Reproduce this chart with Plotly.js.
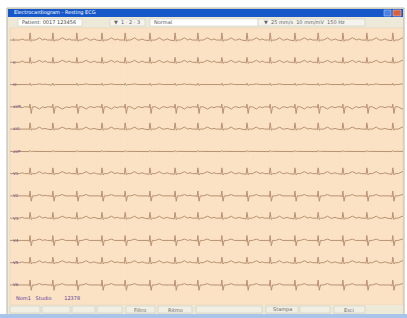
<!DOCTYPE html>
<html><head><meta charset="utf-8">
<script src="https://cdn.plot.ly/plotly-3.0.1.min.js"></script>
<style>html,body{margin:0;padding:0;background:#fff;}#c{width:407px;height:318px;}</style>
</head><body><div id="c"></div>
<script>
// Lead names (top to bottom)
const leads = ["I","II","III","aVR","aVL","aVF","V1","V2","V3","V4","V5","V6"];
// Beat (R peak) times in seconds
const beatTimes = [0.51,1.09,1.70,2.34,2.93,3.56,4.20,4.78,5.39,6.03,6.62,7.25,7.84,8.47,9.08,9.74];
// Wave amplitudes per lead (in row units): P, Q, R, S, T
const ampP = [0.05,0.06,0.02,-0.04,0.03,0.01,0.04,0.03,0.04,0.03,0.04,0.03];
const ampQ = [-0.03,-0.04,-0.02,-0.05,-0.03,-0.01,-0.03,-0.05,-0.03,-0.05,-0.03,-0.05];
const ampR = [0.32,0.22,0.06,0.12,0.28,0.04,0.26,0.22,0.26,0.22,0.25,0.22];
const ampS = [-0.06,-0.05,-0.04,-0.30,-0.05,-0.02,-0.06,-0.24,-0.06,-0.24,-0.06,-0.24];
const ampT = [0.10,0.09,0.03,-0.10,0.09,0.02,0.09,0.06,0.09,0.06,0.09,0.06];
// Row baselines (y axis units), top row first
const baselines = [11,10,9,8,7,6,5,4,3,2,1,0];

const W = 407, H = 318;
const L = 10, R = 403, T = 28, B = 305;
const px = x => (x - L) / (R - L);
const py = y => (B - y) / (B - T);

const traces = leads.map((name, i) => {
  const xs = [0], ys = [baselines[i]];
  beatTimes.forEach(b => {
    const pts = [[-0.26,0],[-0.2,ampP[i]],[-0.14,0],[-0.04,0],[-0.02,ampQ[i]],[0,ampR[i]],[0.03,ampS[i]],[0.06,0],[0.14,0],[0.24,ampT[i]],[0.32,0]];
    pts.forEach(p => { xs.push(b + p[0]); ys.push(baselines[i] + p[1]); });
  });
  xs.push(10); ys.push(baselines[i]);
  return {x: xs, y: ys, type: 'scatter', mode: 'lines', name: name, hoverinfo: 'skip',
          line: {color: '#b89272', width: 1}};
});

const shapes = [
  // window frame
  {type:'rect', xref:'paper', yref:'paper', x0:px(7), x1:px(404), y0:py(318), y1:py(8), fillcolor:'#ece9d8', line:{color:'#b8b4a4', width:1}, layer:'below'},
  // chart area background
  {type:'rect', xref:'paper', yref:'paper', x0:0, x1:1, y0:0, y1:1, fillcolor:'#fce2c4', line:{color:'#e8cfb0', width:0.5}, layer:'below'},
  // title bar
  {type:'rect', xref:'paper', yref:'paper', x0:px(8), x1:px(403), y0:py(17), y1:py(9), fillcolor:'#1657c9', line:{width:0}, layer:'below'},
  {type:'rect', xref:'paper', yref:'paper', x0:px(384), x1:px(391), y0:py(16), y1:py(10), fillcolor:'#4a80e0', line:{color:'#c8d8f8', width:0.5}},
  {type:'rect', xref:'paper', yref:'paper', x0:px(393), x1:px(401), y0:py(16), y1:py(10), fillcolor:'#d86040', line:{color:'#f8d0c8', width:0.5}},
  // toolbar fields
  {type:'rect', xref:'paper', yref:'paper', x0:px(18), x1:px(82), y0:py(26), y1:py(19), fillcolor:'#ffffff', line:{color:'#c8c4b4', width:0.5}},
  {type:'rect', xref:'paper', yref:'paper', x0:px(110), x1:px(145), y0:py(26), y1:py(19), fillcolor:'#f4f3ee', line:{color:'#c8c4b4', width:0.5}},
  {type:'rect', xref:'paper', yref:'paper', x0:px(150), x1:px(258), y0:py(26), y1:py(19), fillcolor:'#ffffff', line:{color:'#c8c4b4', width:0.5}},
  {type:'rect', xref:'paper', yref:'paper', x0:px(258), x1:px(365), y0:py(26), y1:py(19), fillcolor:'#f4f3ee', line:{color:'#c8c4b4', width:0.5}},
  // status bar
  {type:'rect', xref:'paper', yref:'paper', x0:px(8), x1:px(403), y0:py(314), y1:py(305), fillcolor:'#ece9d8', line:{width:0}, layer:'below'},
  {type:'rect', xref:'paper', yref:'paper', x0:px(0), x1:px(407), y0:py(318), y1:py(314), fillcolor:'#a8c4e8', line:{width:0}, layer:'below'},
];
[[10,40],[42,70],[72,95],[97,122],[126,155],[158,192],[196,262],[266,298],[300,330],[334,365]].forEach(b => {
  shapes.push({type:'rect', xref:'paper', yref:'paper', x0:px(b[0]), x1:px(b[1]), y0:py(313), y1:py(306), fillcolor:'#f1efe4', line:{color:'#c4c0b0', width:0.5}});
});

const annotations = [
  {text:'Electrocardiogram - Resting ECG', x:px(12), y:py(13), xref:'paper', yref:'paper', xanchor:'left', yanchor:'middle', showarrow:false, font:{family:'DejaVu Sans', size:5, color:'#ffffff'}},
  {text:'Patient: 0017 123456', x:px(20), y:py(22.5), xref:'paper', yref:'paper', xanchor:'left', yanchor:'middle', showarrow:false, font:{family:'DejaVu Sans', size:5, color:'#444'}},
  {text:'\u25bc  1 · 2 · 3', x:px(112), y:py(22.5), xref:'paper', yref:'paper', xanchor:'left', yanchor:'middle', showarrow:false, font:{family:'DejaVu Sans', size:5, color:'#666'}},
  {text:'Normal', x:px(152), y:py(22.5), xref:'paper', yref:'paper', xanchor:'left', yanchor:'middle', showarrow:false, font:{family:'DejaVu Sans', size:5, color:'#555'}},
  {text:'\u25bc  25 mm/s  10 mm/mV  150 Hz', x:px(262), y:py(22.5), xref:'paper', yref:'paper', xanchor:'left', yanchor:'middle', showarrow:false, font:{family:'DejaVu Sans', size:5, color:'#666'}},
  {text:'Nom1   Studio        12378', x:px(14), y:py(298), xref:'paper', yref:'paper', xanchor:'left', yanchor:'middle', showarrow:false, font:{family:'DejaVu Sans', size:5, color:'#5a3c9a'}},
  {text:'Filtro', x:px(140), y:py(309.5), xref:'paper', yref:'paper', xanchor:'center', yanchor:'middle', showarrow:false, font:{family:'DejaVu Sans', size:5, color:'#666'}},
  {text:'Ritmo', x:px(175), y:py(309.5), xref:'paper', yref:'paper', xanchor:'center', yanchor:'middle', showarrow:false, font:{family:'DejaVu Sans', size:5, color:'#666'}},
  {text:'Stampa', x:px(282), y:py(309.5), xref:'paper', yref:'paper', xanchor:'center', yanchor:'middle', showarrow:false, font:{family:'DejaVu Sans', size:5, color:'#666'}},
  {text:'Esci', x:px(349), y:py(309.5), xref:'paper', yref:'paper', xanchor:'center', yanchor:'middle', showarrow:false, font:{family:'DejaVu Sans', size:5, color:'#666'}},
];

const layout = {
  width: W, height: H,
  margin: {l: L, r: W - R, t: T, b: H - B, pad: 0},
  paper_bgcolor: '#ffffff', plot_bgcolor: '#fce2c4',
  showlegend: false,
  xaxis: {range: [0, 10], showticklabels: false, ticks: '', dtick: 0.2, showgrid: true, gridcolor: '#f9dec0', gridwidth: 0.5, zeroline: false, showline: false, fixedrange: true},
  yaxis: {range: [-0.9, 11.54], tickvals: baselines, ticktext: leads, ticklabelposition: 'inside', ticks: '', showgrid: false, zeroline: false, showline: false, tickfont: {family: 'DejaVu Sans', size: 4, color: '#6a4a8a'}, fixedrange: true},
  shapes: shapes,
  annotations: annotations
};
Plotly.newPlot('c', traces, layout, {staticPlot: true, displayModeBar: false});
</script>
</body></html>
